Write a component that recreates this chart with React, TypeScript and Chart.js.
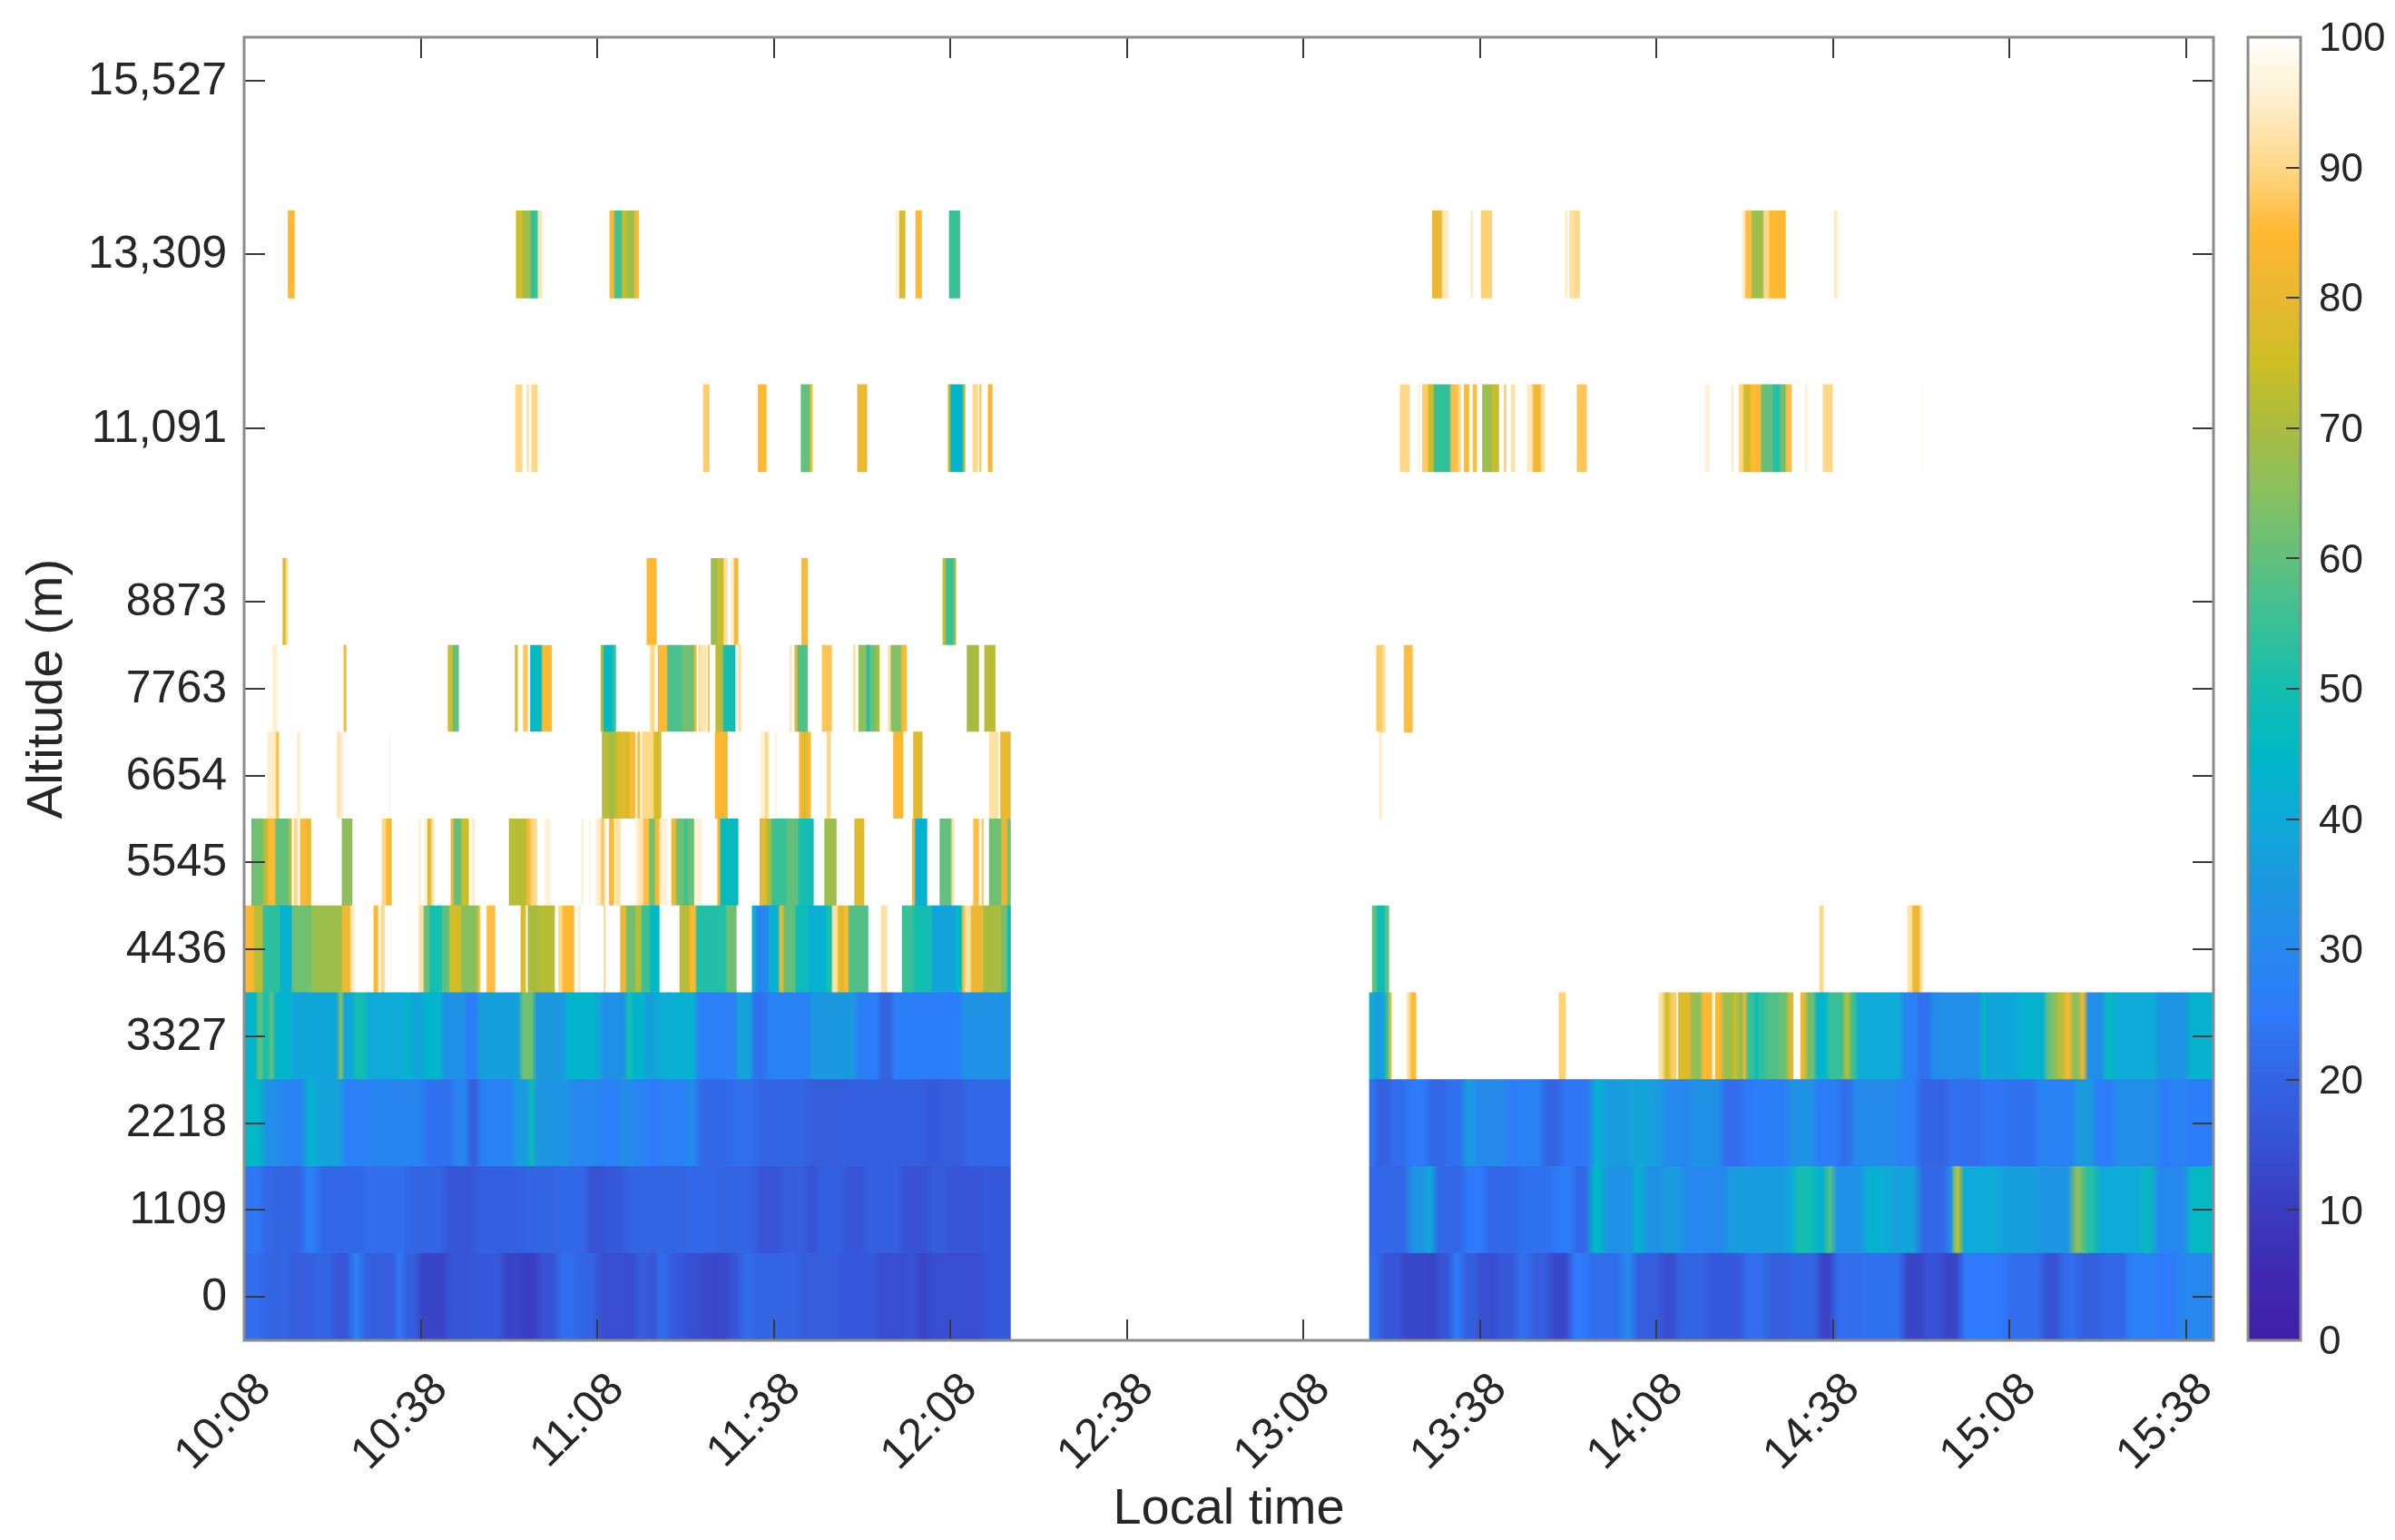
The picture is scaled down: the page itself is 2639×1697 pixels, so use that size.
import React, { useEffect, useRef } from "react";
import { Chart, registerables } from "chart.js";

Chart.register(...registerables);

type Seg = [number, number | null];

const altitudeRows = ["0", "1109", "2218", "3327", "4436", "5545", "6654", "7763", "8873", "9982", "11,091", "12,200", "13,309", "14,418", "15,527"];
const altitudeTicks = ["0", "1109", "2218", "3327", "4436", "5545", "6654", "7763", "8873", "11,091", "13,309", "15,527"];
const timeLabels = ["10:08", "10:38", "11:08", "11:38", "12:08", "12:38", "13:08", "13:38", "14:08", "14:38", "15:08", "15:38"];
const colorbarTicks = [0, 10, 20, 30, 40, 50, 60, 70, 80, 90, 100];
const lastMinute = 334.7;

// Each pair: minute after 10:08 at which a run starts, and its value (null = no data until the next run).
const row0: Seg[] = [[0,22],[3.2,20],[7.9,18],[11.5,20],[15.1,16],[18.1,27],[20,19],[23.3,18],[25.9,24],[26.9,19],[29.5,12],[34.6,16],[38.7,17],[43.9,12],[47,11],[50,15],[53.1,22],[56.7,20],[59.8,17],[60.3,14],[64.9,14],[66.5,18],[69,16],[70.1,22],[72.1,17],[75.2,14],[78.3,13],[82.4,16],[84.5,22],[86.5,20],[94.2,18],[100.9,17],[107.6,14],[112.2,15],[114.3,12],[116.4,14],[125.6,17],[130.3,null],
[191.2,22],[193,16],[196.6,13],[200.7,12],[202.8,16],[205.3,25],[206.9,19],[209.7,14],[213,17],[216.1,22],[218.7,18],[221.8,13],[225.4,25],[228.5,22],[234.1,30],[236.2,18],[240.8,14],[243.4,20],[248.5,17],[254.7,22],[258.8,18],[262.4,20],[267.5,12],[270.1,22],[274.7,23],[281.9,12],[285.5,15],[288.6,12],[291.7,25],[299.4,22],[305.6,15],[308.7,22],[311.8,19],[315.9,21],[320,27],[325.1,25],[328.7,30],[334.7,null]];

const row1: Seg[] = [[0,24],[3.2,21],[4.8,20],[10,26],[12.5,21],[20.2,22],[27.9,20],[34.1,16],[39.2,19],[47.4,20],[53.1,21],[58.3,15],[61.3,17],[64.9,20],[75.2,21],[80.4,20],[87,16],[91.7,18],[95.8,15],[97.3,19],[102,16],[105.6,19],[111.5,15],[116.4,18],[119.4,16],[125.6,17],[130.3,null],
[191.2,21],[197.9,34],[201,39],[202.2,21],[207.4,25],[211,21],[216.6,23],[222.8,26],[225.9,21],[228.7,45],[231,33],[236.2,43],[237.7,33],[241.3,36],[244.4,30],[252.1,36],[262.4,40],[263.4,50],[266.8,43],[269.1,58],[269.9,33],[275.3,42],[279.4,38],[284.5,21],[289.6,30],[290.4,62],[290.9,74],[291.5,40],[298.4,37],[304.6,34],[310.7,66],[312.5,52],[314.8,40],[322.6,47],[324.6,30],[330.3,46],[334.7,null]];

const row2: Seg[] = [[0,45],[3.2,32],[6.3,28],[10.4,43],[12,38],[16.6,27],[21.7,29],[30.5,23],[35.6,29],[38.2,18],[39.7,28],[45.9,36],[48.7,48],[49.1,34],[55.2,30],[60.3,27],[63.9,32],[64.9,31],[66.5,28],[69,25],[70.6,27],[75.2,31],[77,21],[82.4,22],[87,20],[95.8,18],[102,19],[115.8,17],[118.4,18],[122.5,21],[130.3,null],
[191.2,23],[192.2,19],[194.5,22],[197.6,25],[201.2,21],[204.3,23],[207.4,36],[208.9,31],[214.6,26],[216.6,28],[220.7,20],[223.8,24],[229,42],[231,36],[235.1,38],[239.3,36],[241.3,30],[245.9,33],[251.1,22],[254.7,25],[256.7,26],[262.4,33],[267,26],[271.1,22],[273.2,31],[280.9,27],[284.5,20],[289.6,23],[291.7,22],[295.3,24],[299.4,23],[304.6,28],[311.2,36],[314.3,26],[317.9,32],[325.6,25],[327.2,28],[330.3,26],[334.7,null]];

const row3: Seg[] = [[0,44],[2.2,60],[3.2,50],[4.3,60],[5,44],[7.9,39],[16.1,65],[16.7,39],[18.7,50],[20.7,40],[27.4,44],[28.4,39],[30.5,44],[33.6,33],[37.7,26],[39.7,37],[47,62],[49.3,35],[54.7,44],[59.8,38],[60.8,33],[64.9,50],[65.9,44],[68,37],[70,41],[72.1,42],[76.8,27],[83.7,38],[86.3,23],[88.9,28],[96.3,35],[104,26],[107.9,20],[110.2,26],[122,33],[130.3,null],
[191.2,42],[192,35],[193,38],[194,55],[194.6,80],[195,null],[197.6,92],[198.1,84],[199.2,null],[223.4,89],[224.6,null],[240.4,92],[241.3,75],[242.3,88],[243.4,null],[243.7,78],[245.9,66],[247.7,85],[249.5,null],[250,85],[251.1,68],[253.1,74],[253.9,66],[254.8,80],[255.2,55],[256.7,48],[257.3,54],[258.8,58],[260.9,62],[262.4,78],[263.3,null],[264.5,80],[265.5,62],[267,44],[269.1,55],[271.9,72],[272.9,55],[274,40],[281.7,30],[283,27],[284.5,23],[286.6,32],[295.3,46],[295.8,39],[301.5,43],[306.1,60],[307.1,65],[308.2,72],[309.4,83],[310.5,66],[312,80],[313,32],[316.1,46],[317.7,40],[325.1,34],[330.3,43],[334.7,null]];

const row4: Seg[] = [[0,84],[1.7,72],[3.2,53],[6.1,42],[8.1,62],[11.5,68],[16.6,82],[18.1,95],[18.9,null],[22,85],[22.8,null],[23.2,90],[23.9,null],[29.7,92],[30.5,60],[31.5,50],[33.6,60],[34.9,76],[36.9,65],[39.7,85],[40.1,null],[41.2,86],[42.7,null],[47,78],[47.9,null],[48.2,70],[50.3,72],[52.8,null],[53.4,90],[54.1,85],[56.1,null],[56.7,95],[57.2,null],[61.1,90],[61.4,null],[63.9,80],[64.9,62],[66.5,72],[67.5,55],[69,45],[70.6,null],[74,72],[75.7,84],[76.8,52],[81.9,62],[83.7,null],[86.3,42],[87,30],[89.1,42],[90.9,78],[91.7,60],[93.7,48],[95.8,42],[98.9,50],[99.9,92],[100.9,78],[102,85],[102.7,58],[106.1,null],[108.2,92],[109.3,null],[111.8,55],[113.8,50],[116.9,38],[121,46],[122,85],[122.5,92],[123.5,80],[125.6,70],[128.7,62],[129.7,45],[130.3,null],
[191.7,60],[192.5,48],[193.9,60],[194.6,null],[267.7,90],[268.4,null],[282.7,92],[283.5,80],[284.8,92],[285.3,null]];

const row5: Seg[] = [[1.3,62],[3.2,72],[4,85],[5.3,60],[7.6,72],[8.1,null],[8.4,90],[9.1,null],[9.5,85],[10.5,80],[11.4,null],[16.6,66],[18.4,null],[23.4,90],[24.1,84],[25.1,null],[29.7,95],[30,null],[30.6,95],[30.9,null],[31.1,78],[31.8,92],[32.3,null],[35.1,82],[35.6,60],[36.9,75],[38.2,null],[38.7,95],[39.2,null],[45,72],[48,84],[48.7,90],[49.8,null],[51.1,96],[52.1,null],[57.3,96],[57.7,null],[58.7,96],[58.9,null],[59.8,95],[60.6,88],[61.3,null],[62,85],[62.9,null],[63.1,92],[64,null],[66.5,96],[67,93],[67.8,86],[68.8,62],[69.8,84],[70.6,96],[71.9,null],[72.6,82],[73.4,62],[74.7,56],[75.5,62],[76.5,null],[76.8,96],[77.8,null],[80.4,84],[80.9,47],[84,null],[87.6,78],[88.8,70],[89.6,55],[92.2,60],[94.2,50],[96.8,null],[98.6,68],[100.7,null],[103.7,78],[105.4,null],[113.5,84],[114,42],[116.1,null],[118.2,60],[120.2,92],[120.7,null],[123.9,86],[124.9,null],[125.3,88],[125.7,null],[126.6,62],[128.7,80],[129.7,62],[130.3,null]];

const row6: Seg[] = [[4,95],[5.4,86],[5.9,null],[9,95],[9.5,null],[15.8,92],[16.2,95],[16.8,null],[24.6,97],[24.8,null],[60.8,72],[62.1,68],[62.9,74],[63.5,78],[64.9,76],[65.5,85],[66.5,null],[66.8,86],[67.3,null],[67.6,90],[69.6,76],[70.9,null],[80,84],[81.2,82],[82.2,null],[87.8,95],[88.2,null],[88.4,90],[89.1,null],[90.2,97],[90.5,null],[94.3,84],[94.8,78],[95.7,84],[96.3,null],[99,90],[99.7,null],[110.3,84],[112,null],[113.7,78],[115.3,null],[126.6,92],[128.2,null],[128.5,80],[130.3,null],
[192.9,95],[193.4,null]];

const row7: Seg[] = [[4.9,95],[5.6,null],[16.9,84],[17.4,null],[34.6,76],[35.4,60],[36.5,null],[46,78],[46.5,null],[47.4,87],[48.2,null],[48.6,46],[50.6,85],[52.3,null],[60.6,70],[61.1,45],[62.6,55],[63.2,null],[69,90],[69.8,null],[70.3,85],[71.9,57],[74.4,62],[76.5,82],[76.9,null],[77.2,90],[77.5,93],[78.6,null],[78.8,86],[79.1,null],[80.1,72],[81.4,50],[83.5,null],[83.9,92],[84.5,null],[92.7,94],[93.1,null],[93.5,82],[94,58],[95.8,null],[98.2,87],[99.9,null],[103.5,92],[103.9,null],[104.4,66],[105.8,50],[106.3,62],[107.4,70],[108,null],[109.4,92],[109.9,64],[111.7,85],[112.6,null],[122.8,70],[124.9,null],[125.8,72],[127.7,null],
[192.4,88],[193.5,92],[194,null],[197.1,86],[198.6,null]];

const row8: Seg[] = [[6.6,78],[7.1,92],[7.5,null],[68.4,85],[70.1,null],[79.3,68],[80.4,74],[81.5,92],[82.2,null],[82.7,94],[83,null],[83.2,84],[84,null],[94.7,84],[95.8,null],[118.7,75],[119.2,55],[120.6,70],[121,null]];

const row10: Seg[] = [[46.2,90],[47.3,null],[48,92],[48.4,null],[48.8,90],[49.9,null],[78,88],[79.1,null],[87.3,85],[88.8,null],[94.6,60],[96.2,85],[96.6,null],[104.2,80],[105.9,null],[119.6,75],[120,44],[122.2,75],[122.6,null],[123.8,90],[124.7,null],[124.9,88],[125.3,null],[126.4,85],[127.2,null],
[196.4,90],[198.1,null],[199.5,95],[199.8,null],[200.2,88],[201.2,75],[202.2,54],[205,86],[206.3,90],[206.8,null],[207.3,85],[208.2,null],[208.8,86],[209.5,null],[210.4,68],[212.1,74],[213.3,null],[214.1,88],[214.5,null],[215.3,92],[216,null],[218,94],[219,82],[220.4,92],[221.1,null],[226.5,87],[228.2,null],[248.3,96],[249.1,null],[252.7,95],[253.1,null],[254,90],[254.8,76],[256,85],[257.8,60],[259.8,52],[261,62],[262,86],[263,null],[265.2,96],[265.7,null],[268.3,90],[270,null],[285,99],[285.3,null]];

const row12: Seg[] = [[7.5,85],[8.6,null],[46.2,76],[47.3,68],[48.7,54],[49.9,93],[50.6,null],[62.1,84],[62.9,56],[64.2,74],[65,68],[66.3,84],[67.1,null],[110.7,96],[111.1,null],[111.3,78],[112.4,null],[114.1,85],[115.2,null],[119.8,55],[121.7,null],
[201.9,80],[203.6,94],[204.7,null],[208.5,93],[208.8,null],[210.2,89],[212.1,null],[224.5,94],[224.9,null],[225.2,92],[226.2,90],[227,null],[254.6,95],[255.1,86],[256.2,68],[258.2,90],[259.2,85],[262,null],[270.2,94],[270.8,null]];

const rowsByLabel: [string, Seg[]][] = [["0", row0], ["1109", row1], ["2218", row2], ["3327", row3], ["4436", row4], ["5545", row5], ["6654", row6], ["7763", row7], ["8873", row8], ["11,091", row10], ["13,309", row12]];

// Colour map: value, red, green, blue.
const colorStops: number[][] = [[0,64,30,166],[5,62,42,176],[10,59,58,190],[15,55,82,212],[20,51,100,226],[25,46,122,250],[30,38,136,238],[35,28,152,224],[40,14,170,216],[45,0,184,198],[50,20,190,176],[55,58,192,150],[60,98,192,124],[65,136,192,96],[70,170,188,64],[75,204,190,36],[80,234,184,50],[85,255,184,50],[90,255,216,136],[95,255,238,204],[100,255,255,252]];

function colorFor(v: number | null): string {
  if (v === null) return "rgb(255,255,255)";
  for (let i = 1; i < colorStops.length; i++) {
    const a = colorStops[i - 1];
    const b = colorStops[i];
    if (v <= b[0]) {
      const t = (v - a[0]) / (b[0] - a[0]);
      return `rgb(${Math.round(a[1] + (b[1] - a[1]) * t)},${Math.round(a[2] + (b[2] - a[2]) * t)},${Math.round(a[3] + (b[3] - a[3]) * t)})`;
    }
  }
  return "rgb(255,255,252)";
}

const FONT = "'Liberation Sans', Arial, sans-serif";
const TEXT = "#262626";
const FRAME = "#8c8c8c";
const TICK = "#3a3a3a";

function framePlugin(id: string, len: number, both: boolean) {
  return {
    id,
    afterDatasetsDraw(chart: any) {
      const { ctx, chartArea: a, scales } = chart;
      ctx.save();
      ctx.strokeStyle = TICK;
      ctx.lineWidth = 2;
      const yScale = scales.y;
      yScale.ticks.forEach((_: any, i: number) => {
        const p = Math.round(yScale.getPixelForTick(i));
        ctx.beginPath();
        if (both) {
          ctx.moveTo(a.left, p);
          ctx.lineTo(a.left + len, p);
        }
        ctx.moveTo(a.right, p);
        ctx.lineTo(a.right - len, p);
        ctx.stroke();
      });
      if (both) {
        const xScale = scales.x;
        xScale.ticks.forEach((_: any, i: number) => {
          const p = Math.round(xScale.getPixelForTick(i));
          ctx.beginPath();
          ctx.moveTo(p, a.bottom);
          ctx.lineTo(p, a.bottom - len);
          ctx.moveTo(p, a.top);
          ctx.lineTo(p, a.top + len);
          ctx.stroke();
        });
      }
      ctx.strokeStyle = FRAME;
      ctx.lineWidth = 3;
      ctx.strokeRect(a.left, a.top, a.right - a.left, a.bottom - a.top);
      ctx.restore();
    },
  };
}

// One horizontal gradient per row softens each run's edges, as the smoothed image in the reference does.
// Edges that meet a gap stay nearly sharp.
function rowGradient(chart: any, segs: Seg[], soft: number) {
  const xs = chart.scales.x;
  const x0 = xs.getPixelForValue(0);
  const x1 = xs.getPixelForValue(lastMinute);
  const g = chart.ctx.createLinearGradient(x0, 0, x1, 0);
  const frac = (m: number) => Math.min(1, Math.max(0, m / lastMinute));
  const edge = 0.1;
  segs.forEach(([start, value], i) => {
    const end = i + 1 < segs.length ? segs[i + 1][0] : lastMinute;
    const prev = i > 0 ? segs[i - 1][1] : null;
    const next = i + 1 < segs.length ? segs[i + 1][1] : null;
    const len = end - start;
    const dStart = Math.min(value === null || prev === null ? edge : soft, len * 0.4);
    const dEnd = Math.min(value === null || next === null ? edge : soft, len * 0.4);
    const c = colorFor(value);
    g.addColorStop(frac(start + dStart), c);
    g.addColorStop(frac(end - dEnd), c);
  });
  return g;
}

const softByRow = [0.8, 0.8, 0.8, 0.4, 0.18, 0.18, 0.18, 0.18, 0.18, 0.18, 0.18];

const canvasStyle: React.CSSProperties = { position: "fixed", left: 0, top: 0, width: 2639, height: 1697 };

export default function App() {
  const mainRef = useRef<HTMLCanvasElement | null>(null);
  const barRef = useRef<HTMLCanvasElement | null>(null);

  useEffect(() => {
    const datasets = rowsByLabel.map(([label, segs], rowIndex) => {
      const data: any[] = [];
      segs.forEach(([start], i) => {
        if (i + 1 >= segs.length) return;
        data.push({ x: [start, segs[i + 1][0]], y: label });
      });
      let cached: any = null;
      return {
        label,
        data,
        backgroundColor: (c: any) => {
          if (!c.chart.chartArea) return "rgb(255,255,255)";
          if (!cached) cached = rowGradient(c.chart, segs, softByRow[rowIndex]);
          return cached;
        },
        borderWidth: 0,
        inflateAmount: 0.5,
        barPercentage: 1,
        categoryPercentage: 1,
        grouped: false,
      };
    });

    const main = new Chart(mainRef.current as HTMLCanvasElement, {
      type: "bar",
      data: { labels: altitudeRows, datasets: datasets as any },
      plugins: [framePlugin("mainFrame", 23, true)],
      options: {
        indexAxis: "y",
        animation: false,
        responsive: false,
        maintainAspectRatio: false,
        layout: { padding: { top: 41, right: 200 } },
        plugins: { legend: { display: false }, tooltip: { enabled: false } },
        scales: {
          x: {
            type: "linear",
            min: 0,
            max: lastMinute,
            afterFit: (s: any) => { s.height = 220; s.paddingLeft = 0; s.paddingRight = 0; },
            grid: { display: false },
            border: { display: false },
            title: { display: true, text: "Local time", color: TEXT, font: { family: FONT, size: 56 }, padding: { top: 0, bottom: 0 } },
            ticks: {
              stepSize: 30,
              includeBounds: false,
              autoSkip: false,
              minRotation: 45,
              maxRotation: 45,
              labelOffset: 22,
              padding: 17,
              color: TEXT,
              font: { family: FONT, size: 50 },
              callback: (v: any) => timeLabels[Math.round(Number(v) / 30)],
            },
          },
          y: {
            type: "category",
            reverse: true,
            afterFit: (s: any) => { s.width = 269; s.paddingTop = 0; s.paddingBottom = 0; },
            afterBuildTicks: (s: any) => {
              s.ticks = s.ticks.filter((t: any) => altitudeTicks.includes(altitudeRows[t.value]));
            },
            grid: { display: false, drawTicks: false },
            border: { display: false },
            title: { display: true, text: "Altitude (m)", color: TEXT, font: { family: FONT, size: 56 }, padding: { top: 19, bottom: 0 } },
            ticks: { autoSkip: false, padding: 19, labelOffset: 1, color: TEXT, font: { family: FONT, size: 50 } },
          },
        },
      } as any,
    });

    const steps: number[] = [];
    for (let v = 0; v < 100; v += 0.5) steps.push(v);
    const bar = new Chart(barRef.current as HTMLCanvasElement, {
      type: "bar",
      data: {
        labels: ["scale"],
        datasets: steps.map((v) => ({
          data: [0.5],
          backgroundColor: colorFor(v + 0.25),
          borderWidth: 0,
          inflateAmount: 0.5,
          barPercentage: 1,
          categoryPercentage: 1,
          stack: "c",
        })) as any,
      },
      plugins: [framePlugin("barFrame", 16, false)],
      options: {
        animation: false,
        responsive: false,
        maintainAspectRatio: false,
        layout: { padding: { left: 2477, top: 41, bottom: 220 } },
        plugins: { legend: { display: false }, tooltip: { enabled: false } },
        scales: {
          x: { display: false, stacked: true },
          y: {
            position: "right",
            stacked: true,
            min: 0,
            max: 100,
            afterFit: (s: any) => { s.width = 104; s.paddingTop = 0; s.paddingBottom = 0; },
            afterBuildTicks: (s: any) => { s.ticks = colorbarTicks.map((value) => ({ value })); },
            grid: { display: false, drawTicks: false },
            border: { display: false },
            ticks: { padding: 20, labelOffset: 3, color: TEXT, font: { family: FONT, size: 44 } },
          },
        },
      } as any,
    });

    return () => {
      main.destroy();
      bar.destroy();
    };
  }, []);

  return (
    <div>
      <canvas ref={mainRef} width={2639} height={1697} style={canvasStyle} />
      <canvas ref={barRef} width={2639} height={1697} style={canvasStyle} />
    </div>
  );
}
